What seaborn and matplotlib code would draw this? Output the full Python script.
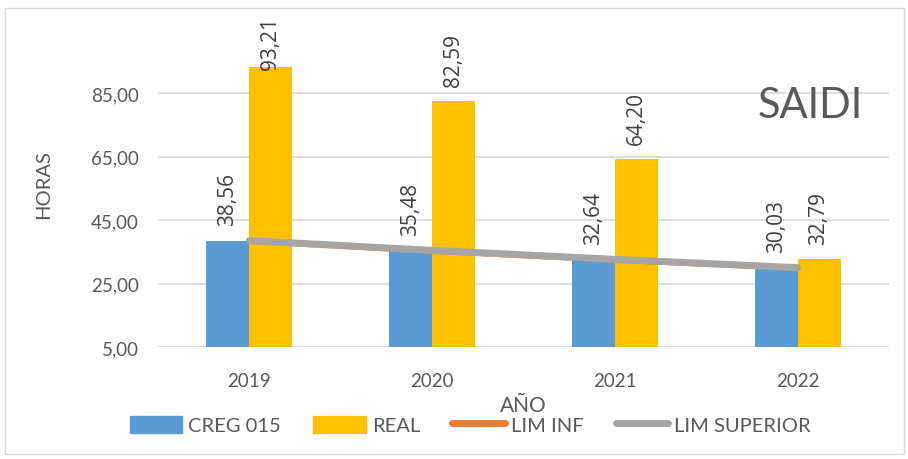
import pandas as pd
import matplotlib.pyplot as plt
import seaborn as sns
from matplotlib.patches import Patch, Rectangle
from matplotlib.lines import Line2D

# values
years = ["2019", "2020", "2021", "2022"]
creg_015 = [38.56, 35.48, 32.64, 30.03]
real = [93.21, 82.59, 64.20, 32.79]
lim_inf = [37.9, 34.8, 32.0, 29.4]
lim_superior = [38.56, 35.48, 32.64, 30.03]

series_names = ["CREG 015", "REAL"]
bar_colors = ["#5b9bd5", "#ffc000"]
text_col = "#595959"

sns.set_theme(style="white")
plt.rcParams['font.family'] = ['Lato', 'DejaVu Sans']

df = pd.DataFrame({
    "year": years * 2,
    "value": creg_015 + real,
    "series": [series_names[0]] * 4 + [series_names[1]] * 4,
})

fig = plt.figure(figsize=(9.08, 4.6), dpi=100)
ax = fig.add_axes([0.174, 0.2435, 0.805, 0.71])

sns.barplot(data=df, x="year", y="value", hue="series", palette=bar_colors,
            width=0.47, gap=0, saturation=1, errorbar=None, legend=False,
            linewidth=0, ax=ax, zorder=2)

# data labels, rotated like in Excel
labels = []
for cont in ax.containers:
    labels += ax.bar_label(cont, labels=[f"{v:.2f}".replace(".", ",") for v in cont.datavalues],
                           rotation=90, padding=11, fontsize=15, color="#404040",
                           fontfamily="Open Sans")

sns.pointplot(x=years, y=lim_inf, color="#ed7d31", markers="", linewidth=2,
              errorbar=None, ax=ax)
sns.pointplot(x=years, y=lim_superior, color="#a5a5a5", markers="", linewidth=5,
              errorbar=None, ax=ax)
for ln in ax.lines:
    ln.set_zorder(4)
    ln.set_solid_capstyle("round")

ax.set_xlim(-0.5, 3.5)
ax.set_ylim(5, 108)
ax.set_yticks([5, 25, 45, 65, 85])
ax.set_yticklabels([f"{t:.2f}".replace(".", ",") for t in [5, 25, 45, 65, 85]])
ax.yaxis.grid(True, color="#d9d9d9", linewidth=1.2, zorder=0)
ax.set_axisbelow(True)
for s in ax.spines.values():
    s.set_visible(False)
ax.tick_params(axis="y", labelsize=13.5, colors=text_col, length=0, pad=14)
ax.tick_params(axis="x", labelsize=13.5, colors=text_col, length=0, pad=18)

ax.set_xlabel("AÑO", fontsize=15, color=text_col, labelpad=4)
ax.set_ylabel("HORAS", fontsize=14.5, color=text_col, labelpad=28)

ax.text(0.893, 0.74, "SAIDI", transform=ax.transAxes, fontsize=30,
        color=text_col, ha="center", va="center")

handles = [
    Patch(color=bar_colors[0]),
    Patch(color=bar_colors[1]),
    Line2D([0], [0], color="#ed7d31", linewidth=5, solid_capstyle="round"),
    Line2D([0], [0], color="#a5a5a5", linewidth=5, solid_capstyle="round"),
]
fig.legend(handles, ["CREG 015", "REAL", "LIM INF", "LIM SUPERIOR"],
           loc="center", bbox_to_anchor=(0.518, 0.074), ncol=4, frameon=False,
           fontsize=14.5, labelcolor=text_col, handlelength=2.6, handleheight=0.9,
           handletextpad=0.3, columnspacing=1.6)

fig.add_artist(Rectangle((0.006, 0.01), 0.99, 0.97, transform=fig.transFigure,
                         fill=False, edgecolor="#d9d9d9", linewidth=1))

# keep labels inside the chart area, as Excel does
fig.canvas.draw()
renderer = fig.canvas.get_renderer()
limit = fig.bbox.height - 17
for t in labels:
    bb = t.get_window_extent(renderer)
    if bb.y1 > limit:
        dx, dy = t.xyann
        t.xyann = (dx, dy - (bb.y1 - limit) * 72 / fig.dpi)

fig.savefig("out.png", dpi=100)
